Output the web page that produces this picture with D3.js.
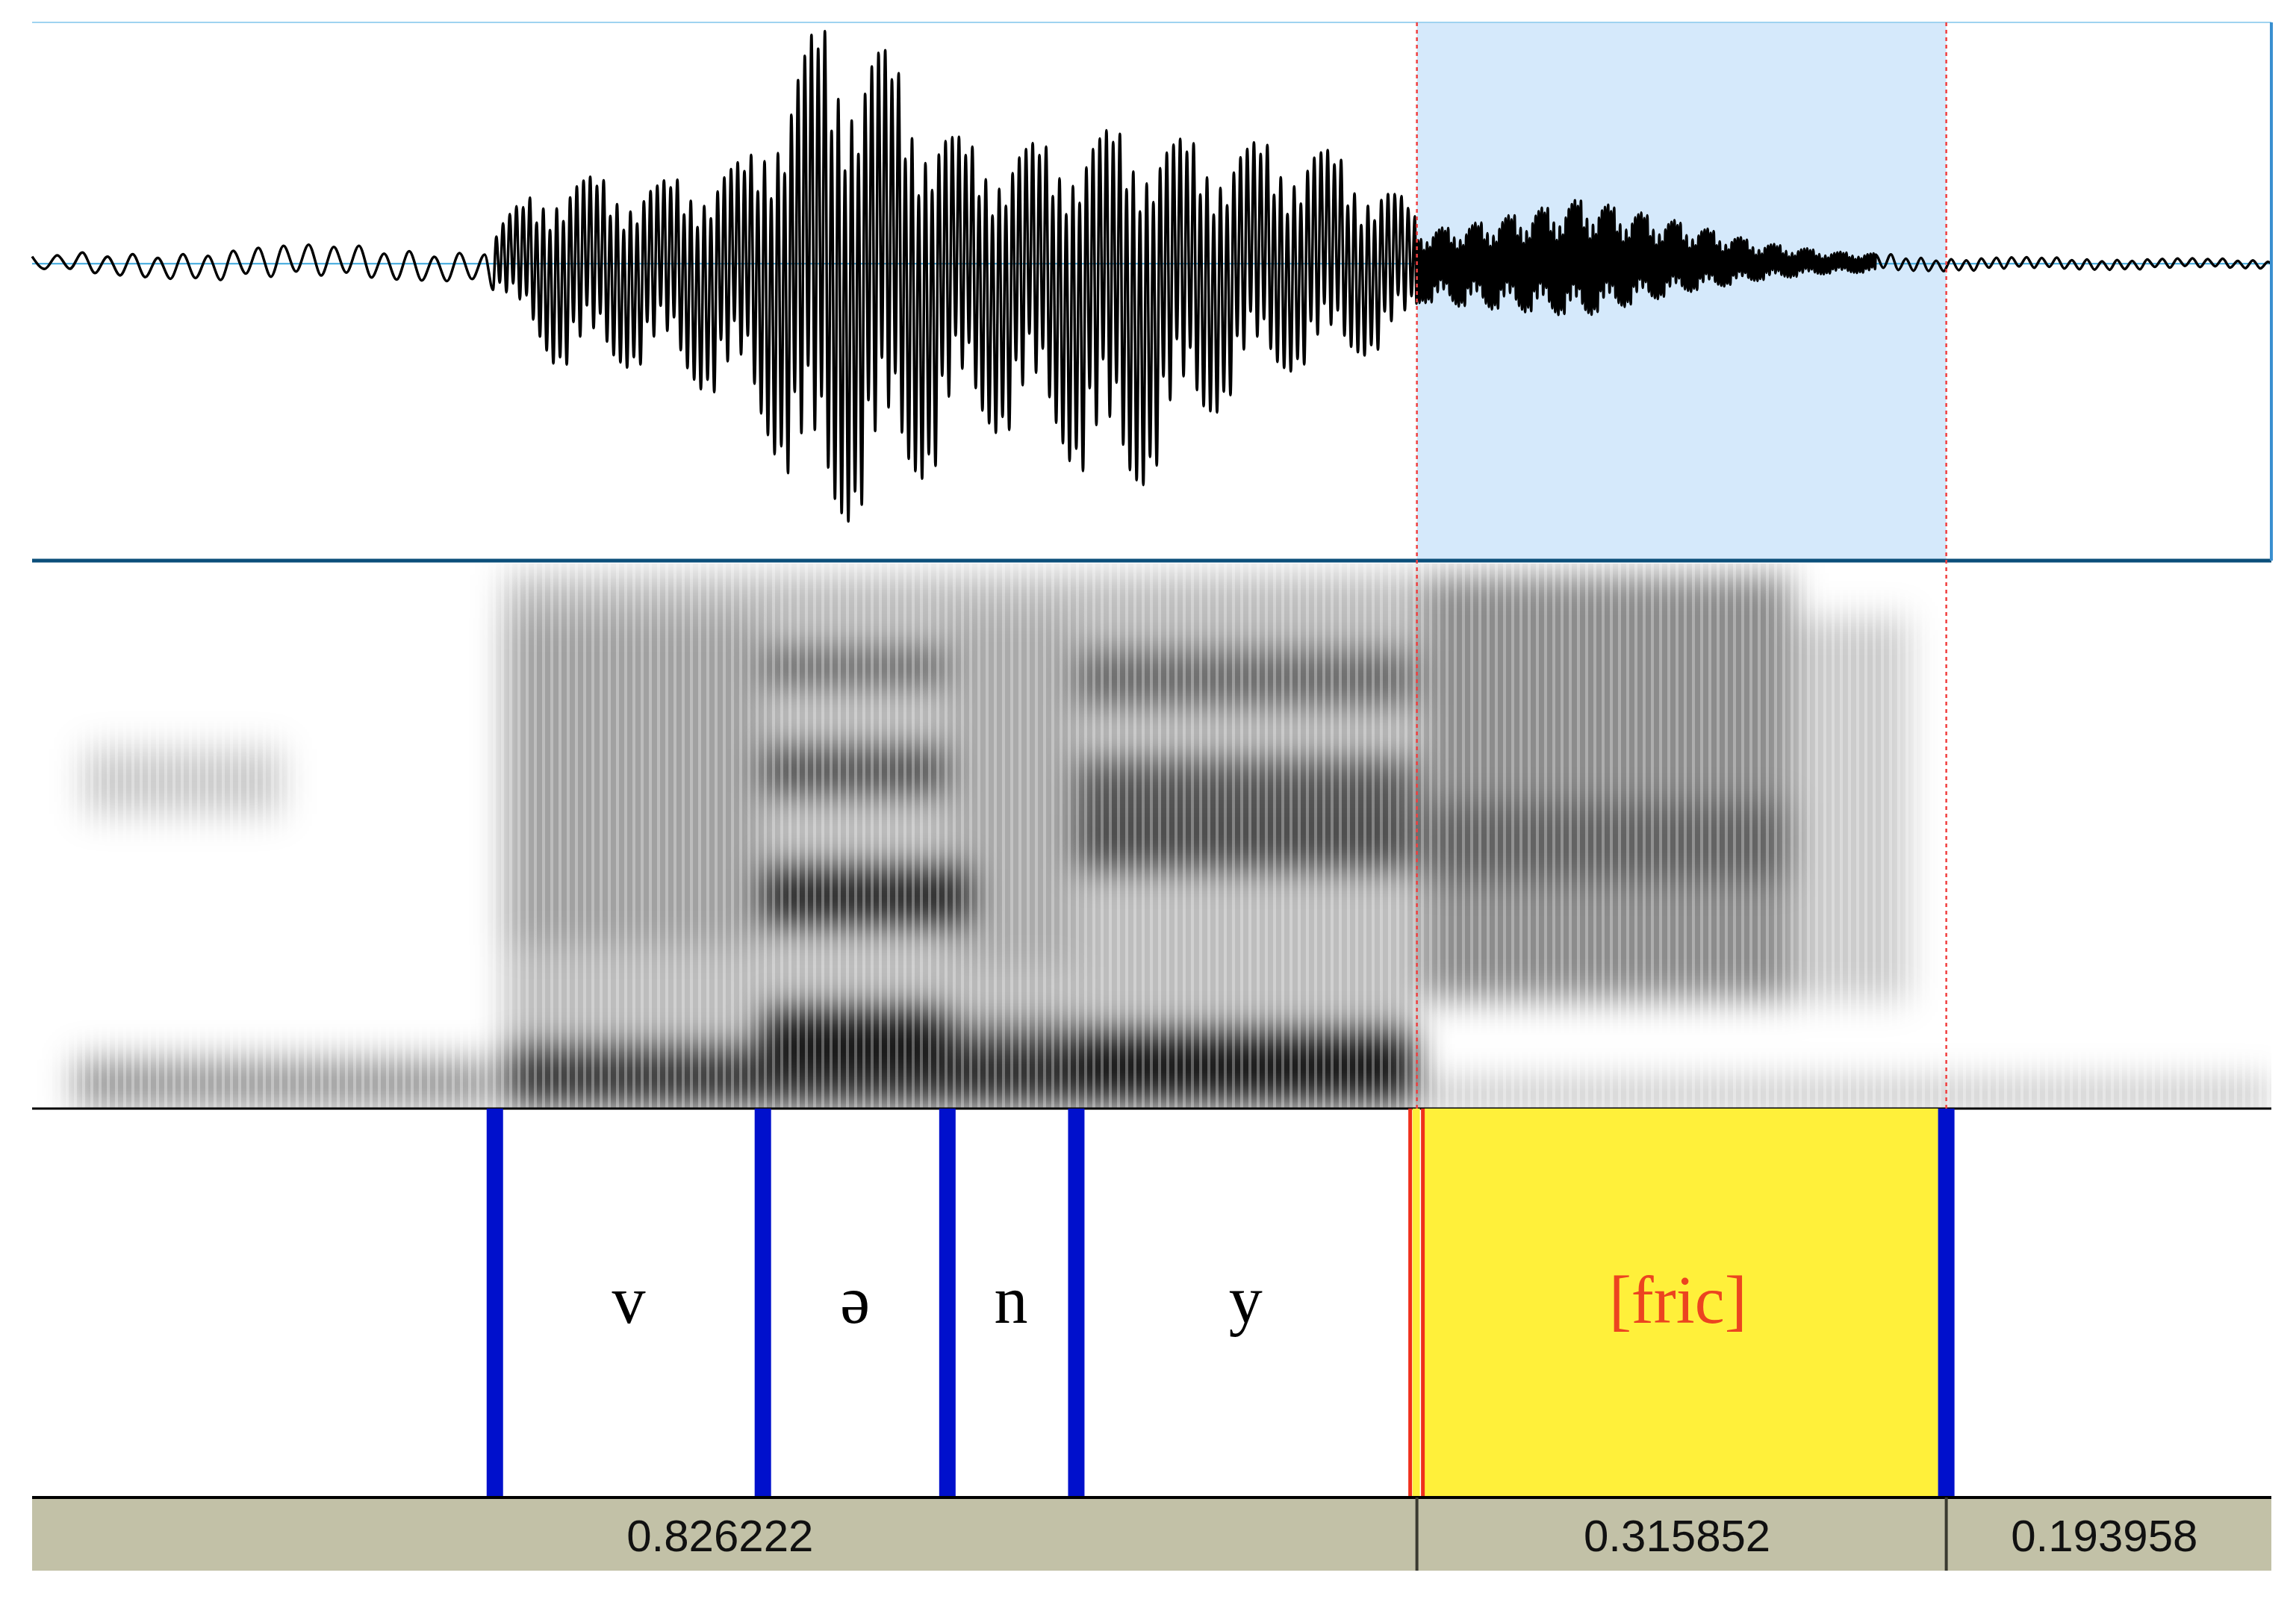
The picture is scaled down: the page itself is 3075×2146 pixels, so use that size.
<!DOCTYPE html>
<html>
<head>
<meta charset="utf-8">
<script src="https://cdn.jsdelivr.net/npm/d3@7"></script>
<style>
  body { margin: 0; background: #fff; }
</style>
</head>
<body>
<div id="chart"></div>
<script>
// interval durations shown in the bottom bar (seconds)
const durations = [0.826222, 0.315852, 0.193958];
const total = d3.sum(durations);

// tier boundaries and labels
const blueBounds = [0.2761, 0.4360, 0.5461, 0.6230, 1.142074];
const redBound = 0.826222;
const segLabels = [
  { label: "v", t: 0.356 }, { label: "ə", t: 0.491 }, { label: "n", t: 0.584 },
  { label: "y", t: 0.724 }, { label: "[fric]", t: 0.982 }
];

// waveform envelope: [time, upper amplitude, lower amplitude]
const envelope = [
  [0.000, 0.03, 0.03], [0.033, 0.05, 0.05], [0.156, 0.08, 0.08], [0.269, 0.07, 0.07],
  [0.282, 0.20, 0.16], [0.313, 0.37, 0.43], [0.374, 0.34, 0.43], [0.427, 0.43, 0.62],
  [0.444, 0.73, 0.80], [0.470, 1.00, 1.15], [0.505, 0.92, 0.98], [0.540, 0.61, 0.86],
  [0.557, 0.50, 0.68], [0.610, 0.50, 0.74], [0.645, 0.56, 1.04], [0.680, 0.52, 0.80],
  [0.724, 0.50, 0.50], [0.759, 0.52, 0.43], [0.802, 0.37, 0.37], [0.822, 0.25, 0.30],
  [0.829, 0.14, 0.16], [0.855, 0.16, 0.18], [0.925, 0.27, 0.22], [0.986, 0.17, 0.12],
  [1.030, 0.09, 0.07], [1.074, 0.05, 0.04], [1.143, 0.03, 0.03], [1.336, 0.02, 0.02]
];
// oscillation period per stretch (seconds)
const periods = [
  [0.000, 0.275, 0.0150], [0.275, 0.826, 0.0040], [0.826, 1.100, 0.0018], [1.100, 1.336, 0.0090]
];
const peakPattern = [1, 0.62, 0.9, 0.48, 0.97, 0.75, 0.56, 0.88, 0.7, 0.95, 0.4];

// spectrogram energy zones: [t0, t1, f0 Hz, f1 Hz, darkness]
const spectro = [
  [0.025, 0.275, 0, 450, 0.4], [0.03, 0.15, 2700, 3300, 0.2],
  [0.282, 0.826, 0, 4900, 0.26], [0.282, 0.826, 0, 550, 0.7],
  [0.282, 0.436, 1500, 4500, 0.15],
  [0.436, 0.546, 3900, 4200, 0.5], [0.436, 0.546, 2900, 3300, 0.6],
  [0.436, 0.560, 1700, 2200, 0.8], [0.436, 0.546, 400, 900, 0.85],
  [0.546, 0.623, 300, 800, 0.4], [0.546, 0.623, 1300, 4500, 0.1],
  [0.623, 0.826, 3700, 4200, 0.45], [0.623, 0.826, 2700, 3200, 0.55],
  [0.623, 0.826, 2200, 2700, 0.6], [0.623, 0.826, 250, 700, 0.75],
  [0.829, 1.050, 1000, 4900, 0.45], [0.829, 1.050, 2100, 2800, 0.3],
  [1.050, 1.120, 1000, 4500, 0.2], [0.829, 1.336, 0, 250, 0.25]
];

const W = 3075, H = 2146;
const left = 43, right = 3042;
const waveTop = 30, waveBot = 751, specTop = 755, specBot = 1485, tierBot = 2006, barBot = 2104;

const x = d3.scaleLinear().domain([0, total]).range([left, right]);
const yW = d3.scaleLinear().domain([-1.23, 1]).range([waveBot, waveTop]);
const yS = d3.scaleLinear().domain([0, 5000]).range([specBot, specTop]);

const svg = d3.select("#chart").append("svg").attr("width", W).attr("height", H);
const defs = svg.append("defs");
defs.append("filter").attr("id", "blur").attr("x", "-20%").attr("y", "-20%")
  .attr("width", "140%").attr("height", "140%")
  .append("feGaussianBlur").attr("stdDeviation", "22 24");
const pat = defs.append("pattern").attr("id", "stria").attr("patternUnits", "userSpaceOnUse")
  .attr("width", 11).attr("height", 40);
pat.append("rect").attr("x", 0).attr("width", 4).attr("height", 40).attr("fill", "#fff").attr("opacity", 0.3);
defs.append("clipPath").attr("id", "specClip").append("rect")
  .attr("x", left).attr("y", specTop).attr("width", right - left).attr("height", specBot - specTop);

// ---------------- waveform ----------------
svg.append("rect").attr("x", x(redBound)).attr("y", waveTop)
  .attr("width", x(blueBounds[4]) - x(redBound)).attr("height", waveBot - waveTop).attr("fill", "#d5e9fb");
svg.append("line").attr("x1", left).attr("x2", right).attr("y1", waveTop).attr("y2", waveTop)
  .attr("stroke", "#9fd3f0").attr("stroke-width", 2);
svg.append("line").attr("x1", left).attr("x2", right).attr("y1", yW(0)).attr("y2", yW(0))
  .attr("stroke", "#3aa6dc").attr("stroke-width", 2);

const envUp = d3.scaleLinear().domain(envelope.map(d => d[0])).range(envelope.map(d => d[1]));
const envDn = d3.scaleLinear().domain(envelope.map(d => d[0])).range(envelope.map(d => d[2]));
const wavePts = [];
let k = 0;
periods.forEach(([t0, t1, p]) => {
  for (let t = t0; t < t1; t += p / 2, k++) {
    const m = peakPattern[k % peakPattern.length];
    const a = k % 2 === 0 ? envUp(t) * m : -envDn(t) * m;
    wavePts.push([t, a]);
  }
});
wavePts.push([total, 0]);
svg.append("path").datum(wavePts)
  .attr("d", d3.line().x(d => x(d[0])).y(d => yW(d[1])).curve(d3.curveMonotoneX))
  .attr("fill", "none").attr("stroke", "#000").attr("stroke-width", 3.5);
svg.append("line").attr("x1", left).attr("x2", right).attr("y1", waveBot).attr("y2", waveBot)
  .attr("stroke", "#0b4f7a").attr("stroke-width", 5);
svg.append("line").attr("x1", right).attr("x2", right).attr("y1", waveTop).attr("y2", waveBot)
  .attr("stroke", "#3a8fd0").attr("stroke-width", 4);

// ---------------- spectrogram ----------------
const sg = svg.append("g").attr("clip-path", "url(#specClip)");
sg.append("g").attr("filter", "url(#blur)").selectAll("rect").data(spectro).join("rect")
  .attr("x", d => x(d[0])).attr("width", d => x(d[1]) - x(d[0]))
  .attr("y", d => yS(d[3])).attr("height", d => yS(d[2]) - yS(d[3]))
  .attr("fill", "#000").attr("opacity", d => d[4]);
sg.append("rect").attr("x", left).attr("y", specTop).attr("width", right - left)
  .attr("height", specBot - specTop).attr("fill", "url(#stria)");
svg.append("line").attr("x1", left).attr("x2", right).attr("y1", specBot).attr("y2", specBot)
  .attr("stroke", "#000").attr("stroke-width", 3);

// dotted selection markers
[redBound, blueBounds[4]].forEach(t => {
  svg.append("line").attr("x1", x(t)).attr("x2", x(t)).attr("y1", waveTop).attr("y2", specBot)
    .attr("stroke", "#f04040").attr("stroke-width", 2.5).attr("stroke-dasharray", "5,5");
});

// ---------------- tier ----------------
svg.append("rect").attr("x", x(redBound) + 8).attr("y", specBot)
  .attr("width", x(blueBounds[4]) - x(redBound) - 8).attr("height", tierBot - specBot).attr("fill", "#fff03a");
svg.selectAll("line.bound").data(blueBounds).join("line").attr("class", "bound")
  .attr("x1", d => x(d)).attr("x2", d => x(d)).attr("y1", specBot).attr("y2", tierBot)
  .attr("stroke", "#0010cc").attr("stroke-width", 22);
[-9, 8].forEach(dx => {
  svg.append("line").attr("x1", x(redBound) + dx).attr("x2", x(redBound) + dx)
    .attr("y1", specBot).attr("y2", tierBot).attr("stroke", "#f0301c").attr("stroke-width", 5);
});
svg.append("rect").attr("x", x(redBound) - 6).attr("y", specBot).attr("width", 10)
  .attr("height", tierBot - specBot).attr("fill", "#fff03a");
svg.selectAll("text.seg").data(segLabels).join("text").attr("class", "seg")
  .attr("x", d => x(d.t)).attr("y", 1772).attr("text-anchor", "middle")
  .attr("font-family", "Liberation Serif, Times New Roman, serif").attr("font-size", 90)
  .attr("fill", d => d.label === "[fric]" ? "#ec4420" : "#000").text(d => d.label);

// ---------------- duration bar ----------------
const starts = durations.map((d, i) => d3.sum(durations.slice(0, i)));
svg.append("rect").attr("x", left).attr("y", tierBot).attr("width", right - left)
  .attr("height", barBot - tierBot).attr("fill", "#c2c1a7");
svg.append("line").attr("x1", left).attr("x2", right).attr("y1", tierBot).attr("y2", tierBot)
  .attr("stroke", "#000").attr("stroke-width", 4);
svg.selectAll("line.div").data(starts.slice(1)).join("line").attr("class", "div")
  .attr("x1", d => x(d)).attr("x2", d => x(d)).attr("y1", tierBot).attr("y2", barBot)
  .attr("stroke", "#3a3a30").attr("stroke-width", 4);
svg.selectAll("text.dur").data(durations).join("text").attr("class", "dur")
  .attr("x", (d, i) => x(starts[i] + d / 2) - 6).attr("y", 2078).attr("text-anchor", "middle")
  .attr("font-family", "Liberation Sans, Arial, sans-serif").attr("font-size", 60)
  .attr("fill", "#111").text(d => d.toFixed(6));
</script>
</body>
</html>
